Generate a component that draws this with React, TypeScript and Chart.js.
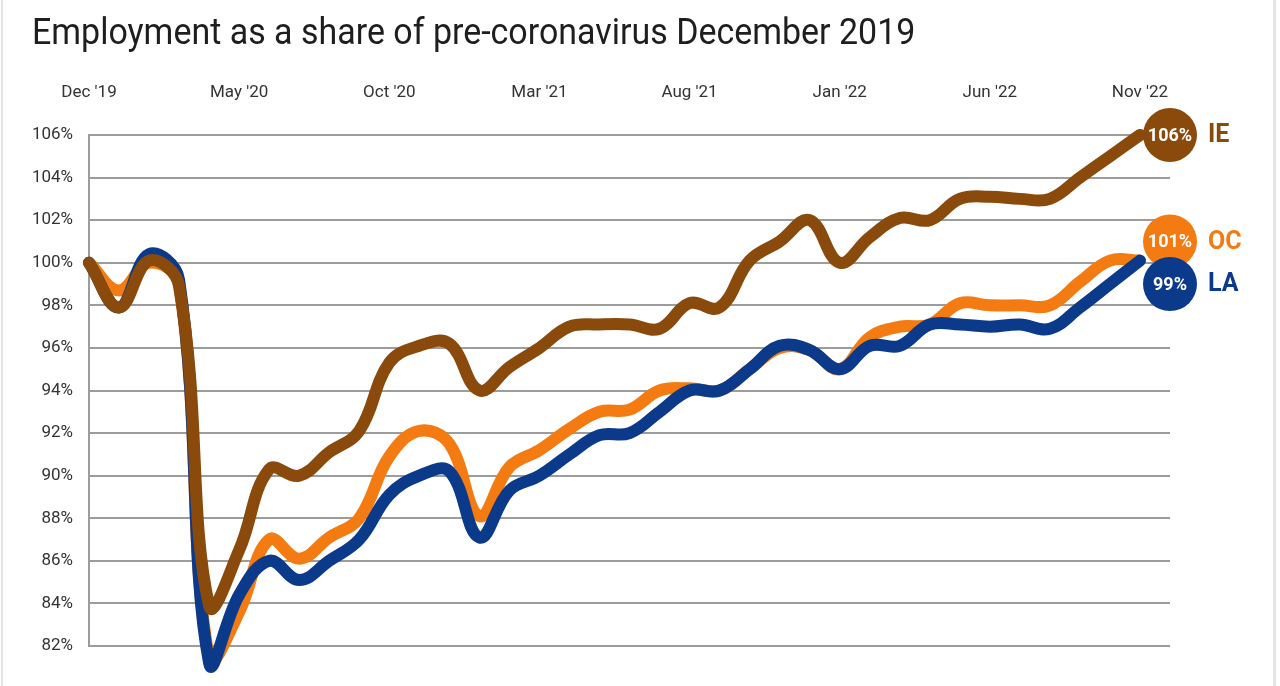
import React, { useEffect, useRef } from "react";
import { Chart, registerables } from "chart.js";

Chart.register(...registerables);

// ---- data ----
const months = [
  "Dec '19", "Jan '20", "Feb '20", "Mar '20", "Apr '20", "May '20", "Jun '20", "Jul '20", "Aug '20", "Sep '20", "Oct '20", "Nov '20",
  "Dec '20", "Jan '21", "Feb '21", "Mar '21", "Apr '21", "May '21", "Jun '21", "Jul '21", "Aug '21", "Sep '21", "Oct '21", "Nov '21",
  "Dec '21", "Jan '22", "Feb '22", "Mar '22", "Apr '22", "May '22", "Jun '22", "Jul '22", "Aug '22", "Sep '22", "Oct '22", "Nov '22",
];
const axisMonthLabels = ["Dec '19", "May '20", "Oct '20", "Mar '21", "Aug '21", "Jan '22", "Jun '22", "Nov '22"];
const yTickValues = [82, 84, 86, 88, 90, 92, 94, 96, 98, 100, 102, 104, 106];

const ieValues = [
  100.0, 97.9, 100.1, 98.9, 83.9, 86.5, 90.3, 90.0, 91.1, 92.1, 95.3, 96.1,
  96.2, 94.0, 95.1, 96.0, 97.0, 97.1, 97.1, 96.9, 98.1, 97.9, 100.1, 101.0,
  102.0, 100.0, 101.2, 102.1, 102.0, 103.0, 103.1, 103.0, 103.0, 104.0, 105.0, 106.0,
];
const laValues = [
  100.0, 97.9, 100.4, 99.2, 81.2, 84.4, 86.0, 85.1, 86.0, 87.0, 89.1, 90.0,
  90.2, 87.1, 89.3, 90.0, 91.0, 91.9, 92.0, 93.0, 94.0, 94.0, 95.0, 96.1,
  95.9, 95.0, 96.1, 96.1, 97.1, 97.1, 97.0, 97.1, 96.9, 97.9, 99.0, 100.1,
];
const ocValues = [
  100.0, 98.7, 100.0, 99.0, 81.4, 83.6, 87.0, 86.1, 87.1, 88.0, 90.9, 92.1,
  91.5, 88.1, 90.4, 91.2, 92.2, 93.0, 93.1, 94.0, 94.1, 94.0, 95.0, 96.0,
  95.9, 95.0, 96.5, 97.0, 97.1, 98.1, 98.0, 98.0, 98.0, 99.1, 100.1, 100.1,
];

const seriesNames = ["IE", "LA", "OC"];
const seriesColors = ["#8a4a0c", "#0c3a8a", "#f47a12"];
const endLabels = ["106%", "99%", "101%"];
const endLabelValues = [106, 99, 101];

const titleText = "Employment as a share of pre-coronavirus December 2019";

const FONT = "Roboto, 'Noto Sans', sans-serif";

const endBubbles = {
  id: "endBubbles",
  afterDatasetsDraw(chart: any) {
    const { ctx, scales } = chart;
    const xs = scales.x;
    const ys = scales.y;
    const cx = xs.getPixelForValue(months.length);
    const drawOrder = [0, 2, 1];
    ctx.save();
    for (const i of drawOrder) {
      const cy = ys.getPixelForValue(endLabelValues[i]);
      ctx.beginPath();
      ctx.arc(cx, cy, 27, 0, Math.PI * 2);
      ctx.fillStyle = seriesColors[i];
      ctx.fill();
      ctx.fillStyle = "#ffffff";
      ctx.font = `bold 18px ${FONT}`;
      ctx.textAlign = "center";
      ctx.textBaseline = "middle";
      ctx.fillText(endLabels[i], cx, cy + 1);
      ctx.fillStyle = seriesColors[i];
      ctx.font = `bold 25px ${FONT}`;
      ctx.textAlign = "left";
      ctx.fillText(seriesNames[i], cx + 38, cy + 1);
    }
    ctx.restore();
  },
};

export default function App() {
  const canvasRef = useRef<HTMLCanvasElement | null>(null);
  const titleRef = useRef<HTMLSpanElement | null>(null);

  useEffect(() => {
    const t = titleRef.current;
    if (t) {
      const w = t.offsetWidth;
      if (w > 0) t.style.transform = `scaleX(${883 / w})`;
    }
  }, []);

  useEffect(() => {
    if (!canvasRef.current) return;
    const series = [ieValues, laValues, ocValues];
    const chart = new Chart(canvasRef.current, {
      type: "line",
      data: {
        datasets: series.map((vals, i) => ({
          label: seriesNames[i],
          data: vals.map((v, k) => ({ x: k, y: v })),
          borderColor: seriesColors[i],
          backgroundColor: seriesColors[i],
          borderWidth: 12,
          borderCapStyle: "round",
          borderJoinStyle: "round",
          tension: 0.4,
          pointRadius: 0,
          pointHoverRadius: 0,
          clip: false,
          fill: false,
        })),
      },
      options: {
        animation: false,
        responsive: false,
        devicePixelRatio: 1,
        events: [],
        layout: { padding: { left: 0, top: 0, right: 110, bottom: 40 } },
        plugins: {
          legend: { display: false },
          tooltip: { enabled: false },
          title: { display: false },
        },
        scales: {
          x: {
            type: "linear",
            position: "top",
            min: 0,
            max: months.length,
            grid: { display: false, drawTicks: false },
            border: { display: false },
            afterBuildTicks: (s: any) => {
              s.ticks = axisMonthLabels.map((l) => ({ value: months.indexOf(l) }));
            },
            ticks: {
              autoSkip: false,
              maxRotation: 0,
              padding: 32,
              color: "#333333",
              font: { family: FONT, size: 17 },
              callback: (v: any) => months[v as number] ?? "",
            },
            afterFit: (s: any) => {
              s.height = 135;
            },
          },
          y: {
            min: yTickValues[0],
            max: yTickValues[yTickValues.length - 1],
            afterBuildTicks: (s: any) => {
              s.ticks = yTickValues.map((v) => ({ value: v }));
            },
            grid: { color: "#9c9c9c", lineWidth: 2, drawTicks: false },
            border: { display: true, color: "#9c9c9c", width: 2 },
            ticks: {
              padding: 16,
              color: "#333333",
              font: { family: FONT, size: 17 },
              callback: (v: any) => `${v}%`,
            },
            afterFit: (s: any) => {
              s.width = 89;
            },
          },
        },
      },
      plugins: [endBubbles],
    } as any);
    return () => chart.destroy();
  }, []);

  return (
    <div
      style={{
        position: "fixed",
        left: 0,
        top: 0,
        width: 1280,
        height: 686,
        background: "#ffffff",
        overflow: "hidden",
      }}
    >
      <div style={{ position: "absolute", left: 1, top: 0, width: 2, height: 686, background: "#e4e4e4" }} />
      <div style={{ position: "absolute", left: 1273, top: 0, width: 3, height: 686, background: "#e4e4e4" }} />
      <canvas
        ref={canvasRef}
        width={1280}
        height={686}
        style={{ position: "absolute", left: 0, top: 0, width: 1280, height: 686 }}
      />
      <div
        style={{
          position: "absolute",
          left: 32,
          top: 14,
          whiteSpace: "nowrap",
          fontFamily: FONT,
          fontSize: 36,
          lineHeight: "36px",
          color: "#1e1e1e",
        }}
      >
        <span ref={titleRef} style={{ display: "inline-block", transformOrigin: "left center" }}>
          {titleText}
        </span>
      </div>
    </div>
  );
}
